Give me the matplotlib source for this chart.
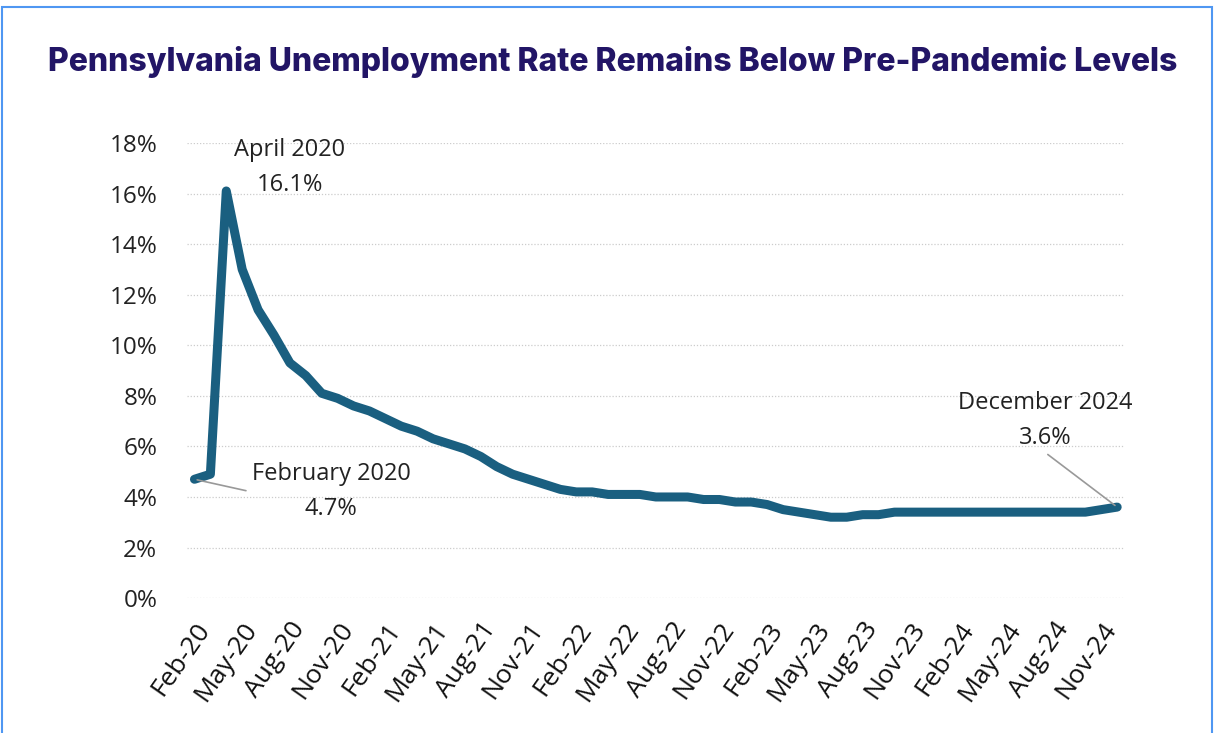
import matplotlib.pyplot as plt
import matplotlib.patches as patches
import numpy as np

# monthly PA unemployment rate, Feb 2020 - Dec 2024
months = [
    "Feb-20", "Mar-20", "Apr-20", "May-20", "Jun-20", "Jul-20", "Aug-20", "Sep-20", "Oct-20", "Nov-20", "Dec-20",
    "Jan-21", "Feb-21", "Mar-21", "Apr-21", "May-21", "Jun-21", "Jul-21", "Aug-21", "Sep-21", "Oct-21", "Nov-21", "Dec-21",
    "Jan-22", "Feb-22", "Mar-22", "Apr-22", "May-22", "Jun-22", "Jul-22", "Aug-22", "Sep-22", "Oct-22", "Nov-22", "Dec-22",
    "Jan-23", "Feb-23", "Mar-23", "Apr-23", "May-23", "Jun-23", "Jul-23", "Aug-23", "Sep-23", "Oct-23", "Nov-23", "Dec-23",
    "Jan-24", "Feb-24", "Mar-24", "Apr-24", "May-24", "Jun-24", "Jul-24", "Aug-24", "Sep-24", "Oct-24", "Nov-24", "Dec-24",
]
rate = [
    4.7, 4.9, 16.1, 13.0, 11.4, 10.4, 9.3, 8.8, 8.1, 7.9, 7.6,
    7.4, 7.1, 6.8, 6.6, 6.3, 6.1, 5.9, 5.6, 5.2, 4.9, 4.7, 4.5,
    4.3, 4.2, 4.2, 4.1, 4.1, 4.1, 4.0, 4.0, 4.0, 3.9, 3.9, 3.8,
    3.8, 3.7, 3.5, 3.4, 3.3, 3.2, 3.2, 3.3, 3.3, 3.4, 3.4, 3.4,
    3.4, 3.4, 3.4, 3.4, 3.4, 3.4, 3.4, 3.4, 3.4, 3.4, 3.5, 3.6,
]
yticks = [0, 2, 4, 6, 8, 10, 12, 14, 16, 18]

x = np.arange(len(months))

fig = plt.figure(figsize=(12.19, 7.33), dpi=100)
fig.patches.append(patches.Rectangle((0.002, -0.01), 0.992, 1.0, transform=fig.transFigure,
                                     fill=False, edgecolor="#4f97f2", linewidth=1.5))

ax = fig.add_axes([0.153, 0.184, 0.770, 0.621])
ax.plot(x, rate, color="#1a5f80", linewidth=6.5, solid_capstyle="round", solid_joinstyle="round", zorder=3)

ax.set_xlim(-0.5, len(months) - 0.5)
ax.set_ylim(0, 18)
ax.set_yticks(yticks)
ax.set_yticklabels([f"{v}%" for v in yticks], family="Open Sans", fontsize=17.5, color="#222222")
ax.set_xticks(x[::3])
ax.set_xticklabels(months[::3], rotation=55, ha="right", rotation_mode="anchor",
                   family="Open Sans", fontsize=19, color="#111111")
ax.tick_params(length=0, pad=14)
ax.tick_params(axis="y", pad=21)
for s in ax.spines.values():
    s.set_visible(False)
ax.grid(axis="y", color="#cccccc", linestyle=(0, (1, 1.5)), linewidth=0.9)
ax.set_axisbelow(True)

ann = dict(family="Open Sans", fontsize=17, color="#222222", ha="center", linespacing=1.6)
arrow = dict(arrowstyle="-", color="#999999", linewidth=1.2)
ax.annotate("April 2020\n16.1%", xy=(2, 16.1), xytext=(6.0, 16.1), **ann)
ax.annotate("February 2020\n4.7%", xy=(0, 4.7), xytext=(8.6, 3.3), arrowprops=dict(arrow, relpos=(-0.02, 0.5)), **ann)
ax.annotate("December 2024\n3.6%", xy=(58, 3.6), xytext=(53.5, 6.1), arrowprops=dict(arrow, relpos=(0.5, -0.05)), **ann)

fig.text(0.503, 0.915, "Pennsylvania Unemployment Rate Remains Below Pre-Pandemic Levels",
         ha="center", va="center", fontsize=23, fontweight="heavy", family="Inter", color="#221566")

fig.savefig("out.png", dpi=100, facecolor="white")
